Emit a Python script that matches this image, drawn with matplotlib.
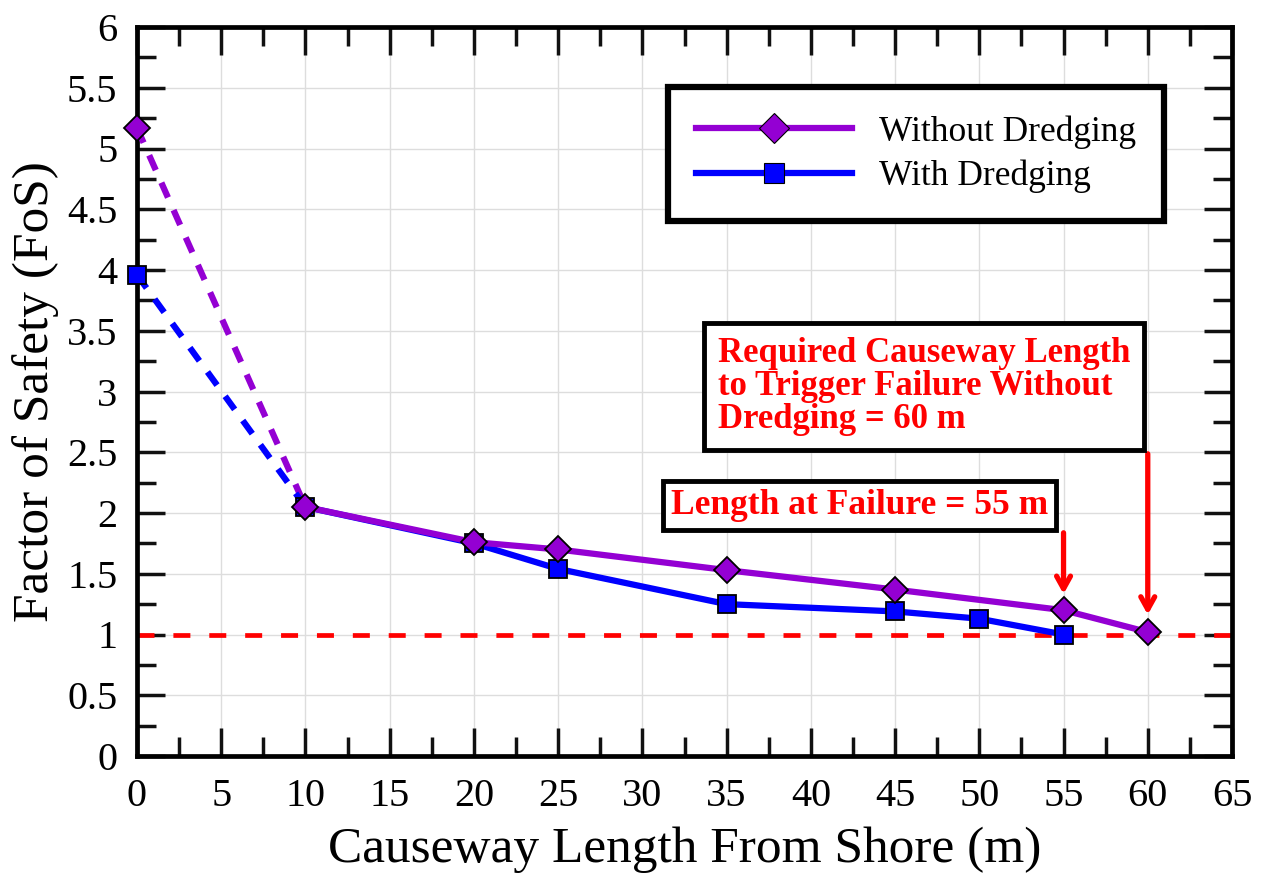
import matplotlib
matplotlib.use("Agg")
import matplotlib.pyplot as plt
from matplotlib.ticker import MultipleLocator

# Data
x_without = [0, 10, 20, 25, 35, 45, 55, 60]
fos_without = [5.17, 2.05, 1.76, 1.70, 1.53, 1.37, 1.20, 1.02]
x_with = [0, 10, 20, 25, 35, 45, 50, 55]
fos_with = [3.96, 2.05, 1.75, 1.54, 1.25, 1.19, 1.13, 1.00]
fos_limit = 1.0
yticks = [0, 0.5, 1, 1.5, 2, 2.5, 3, 3.5, 4, 4.5, 5, 5.5, 6]
ytick_labels = ["0", "0.5", "1", "1.5", "2", "2.5", "3", "3.5", "4", "4.5", "5", "5.5", "6"]
label_without = "Without Dredging"
label_with = "With Dredging"
note_required = "Required Causeway Length\nto Trigger Failure Without\nDredging = 60 m"
note_failure = "Length at Failure = 55 m"

purple = "#9400D3"
blue = "#0000FF"
red = "#FF0000"

plt.rcParams['font.family'] = ['Liberation Serif', 'DejaVu Serif']

fig = plt.figure(figsize=(12.62, 8.76), dpi=100)
ax = fig.add_axes([137 / 1262, 1 - 756 / 876, (1232 - 137) / 1262, (756 - 27) / 876])

ax.set_xlim(0, 65)
ax.set_ylim(0, 6)
ax.xaxis.set_major_locator(MultipleLocator(5))
ax.xaxis.set_minor_locator(MultipleLocator(2.5))
ax.set_yticks(yticks)
ax.set_yticklabels(ytick_labels)
ax.yaxis.set_minor_locator(MultipleLocator(0.25))
ax.grid(True, which='major', color='#dddddd', lw=1, zorder=0)
ax.tick_params(which='major', direction='in', length=20, width=2.5, top=True, right=True,
               labelsize=29, colors='#111111', labelcolor='black')
ax.tick_params(axis='y', which='major', pad=14)
ax.tick_params(axis='x', which='major', pad=16)
ax.tick_params(which='minor', direction='in', length=14, width=2.5, top=True, right=True,
               colors='#111111')
for s in ax.spines.values():
    s.set_linewidth(3.4)

# Red FoS=1 line
ax.axhline(fos_limit, color=red, lw=3.4, ls=(0, (3.6, 4.0)), zorder=2)

# Dashed initial segments
ax.plot(x_without[:2], fos_without[:2], color=purple, lw=4.5, ls=(0, (2.6, 2.2)), zorder=3)
ax.plot(x_with[:2], fos_with[:2], color=blue, lw=4.5, ls=(0, (2.6, 2.2)), zorder=3)
# Solid segments
ax.plot(x_with[1:], fos_with[1:], color=blue, lw=4.5, zorder=4)
ax.plot(x_without[1:], fos_without[1:], color=purple, lw=4.5, zorder=5)
# Markers
ax.plot(x_with, fos_with, ls='none', marker='s', ms=13.5, mfc=blue, mec='black', mew=1.3,
        zorder=6, clip_on=False)
ax.plot(x_without, fos_without, ls='none', marker='D', ms=13.5, mfc=purple, mec='black', mew=1.3,
        zorder=7, clip_on=False)

# Legend proxies
h1, = ax.plot([], [], color=purple, lw=4.5, marker='D', ms=15, mfc=purple, mec='black', mew=0.8)
h2, = ax.plot([], [], color=blue, lw=4.5, marker='s', ms=15, mfc=blue, mec='black', mew=0.8)
leg = ax.legend([h1, h2], [label_without, label_with], loc='upper left',
                bbox_to_anchor=((668 - 137) / 1095, (756 - 87) / 729), fontsize=25.5,
                frameon=True, fancybox=False, framealpha=1, edgecolor='black',
                handlelength=4.4, borderpad=0.8, labelspacing=0.3,
                handletextpad=0.75, borderaxespad=0)
leg.get_frame().set_linewidth(4.5)
leg.set_zorder(10)

# Annotations
ax.text(34.5, 3.04, note_required, color=red, fontsize=25, fontweight='bold',
        ha='left', va='center', linespacing=1.0, zorder=10,
        bbox=dict(boxstyle='square,pad=0.4', fc='white', ec='black', lw=3.5))
ax.text(31.7, 2.06, note_failure, color=red, fontsize=25.5, fontweight='bold',
        ha='left', va='center', zorder=10,
        bbox=dict(boxstyle='square,pad=0.22', fc='white', ec='black', lw=3.5))

ax.annotate('', xy=(60, 1.14), xytext=(60, 2.51),
            arrowprops=dict(arrowstyle='->,head_length=0.9,head_width=0.5', color=red, lw=3.8),
            zorder=9)
ax.annotate('', xy=(55, 1.31), xytext=(55, 1.86),
            arrowprops=dict(arrowstyle='->,head_length=0.9,head_width=0.5', color=red, lw=3.8),
            zorder=9)

ax.set_xlabel("Causeway Length From Shore (m)", fontsize=37, labelpad=8)
ax.set_ylabel("Factor of Safety (FoS)", fontsize=37, labelpad=6)

fig.savefig("out.png", dpi=100)
